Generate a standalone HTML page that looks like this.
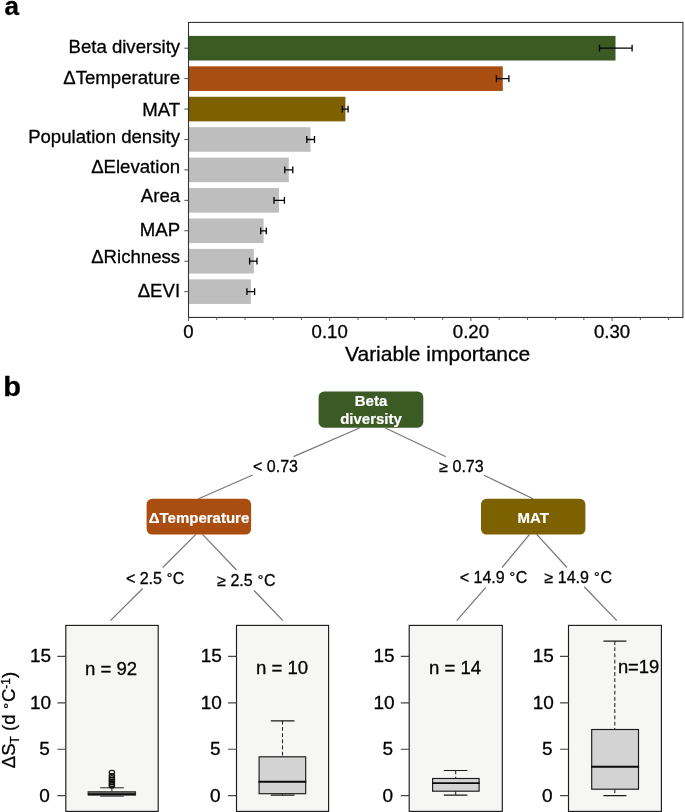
<!DOCTYPE html>
<html lang="en"><head><meta charset="utf-8"><title>Figure</title>
<style>
html,body{margin:0;padding:0;background:#fff;}
body{width:685px;height:812px;overflow:hidden;}
svg{display:block;font-family:"Liberation Sans",Arial,Helvetica,sans-serif;fill:#000;}
.lab{font-size:18.6px;}
text{stroke:#000;stroke-width:0.3px;}
.b{font-weight:bold;}
.node{font-size:15px;font-weight:bold;fill:#fff;stroke:#fff;stroke-width:0.2px;text-anchor:middle;}
.sp{font-size:16px;}
.tk{font-size:19px;text-anchor:end;}
.n{font-size:18.6px;}
.ln{stroke:#787878;stroke-width:1.25;fill:none;}
.ax{stroke:#333;stroke-width:1.1;fill:none;}
.eb{stroke:#000;stroke-width:1.3;fill:none;}
.bx{stroke:#222;stroke-width:1;}
</style></head><body>
<svg width="685" height="812" viewBox="0 0 685 812">
<rect x="0" y="0" width="685" height="812" fill="#ffffff"/>
<text x="4.6" y="14.85" class="b" font-size="26">a</text>
<text transform="translate(3.2 396) scale(1.07 1)" class="b" font-size="27.2">b</text>
<rect x="188.5" y="35.90" width="427.00" height="24.6" fill="#3b5a24"/>
<path class="eb" d="M599.5 48.20H632.1M599.5 44.80v6.8M632.1 44.80v6.8"/>
<path d="M184.3 48.20H188.5" stroke="#555" stroke-width="1" fill="none"/>
<text class="lab" text-anchor="end" x="180.1" y="52.50">Beta diversity</text>
<rect x="188.5" y="66.33" width="314.30" height="24.6" fill="#a94d10"/>
<path class="eb" d="M496.4 78.63H508.9M496.4 75.23v6.8M508.9 75.23v6.8"/>
<path d="M184.3 78.63H188.5" stroke="#555" stroke-width="1" fill="none"/>
<text class="lab" text-anchor="end" x="180.1" y="83.60">ΔTemperature</text>
<rect x="188.5" y="96.76" width="156.90" height="24.6" fill="#7d6000"/>
<path class="eb" d="M342.3 109.06H348.1M342.3 105.66v6.8M348.1 105.66v6.8"/>
<path d="M184.3 109.06H188.5" stroke="#555" stroke-width="1" fill="none"/>
<text class="lab" text-anchor="end" x="180.1" y="115.55">MAT</text>
<rect x="188.5" y="127.19" width="122.00" height="24.6" fill="#bebebe"/>
<path class="eb" d="M306.8 139.49H314.5M306.8 136.09v6.8M314.5 136.09v6.8"/>
<path d="M184.3 139.49H188.5" stroke="#555" stroke-width="1" fill="none"/>
<text class="lab" text-anchor="end" x="180.1" y="142.50">Population density</text>
<rect x="188.5" y="157.62" width="100.30" height="24.6" fill="#bebebe"/>
<path class="eb" d="M284.8 169.92H292.8M284.8 166.52v6.8M292.8 166.52v6.8"/>
<path d="M184.3 169.92H188.5" stroke="#555" stroke-width="1" fill="none"/>
<text class="lab" text-anchor="end" x="180.1" y="172.90">ΔElevation</text>
<rect x="188.5" y="188.05" width="90.50" height="24.6" fill="#bebebe"/>
<path class="eb" d="M274.0 200.35H284.4M274.0 196.95v6.8M284.4 196.95v6.8"/>
<path d="M184.3 200.35H188.5" stroke="#555" stroke-width="1" fill="none"/>
<text class="lab" text-anchor="end" x="180.1" y="201.75">Area</text>
<rect x="188.5" y="218.48" width="75.10" height="24.6" fill="#bebebe"/>
<path class="eb" d="M260.7 230.78H266.3M260.7 227.38v6.8M266.3 227.38v6.8"/>
<path d="M184.3 230.78H188.5" stroke="#555" stroke-width="1" fill="none"/>
<text class="lab" text-anchor="end" x="180.1" y="235.95">MAP</text>
<rect x="188.5" y="248.91" width="65.30" height="24.6" fill="#bebebe"/>
<path class="eb" d="M249.6 261.21H257.0M249.6 257.81v6.8M257.0 257.81v6.8"/>
<path d="M184.3 261.21H188.5" stroke="#555" stroke-width="1" fill="none"/>
<text class="lab" text-anchor="end" x="180.1" y="263.20">ΔRichness</text>
<rect x="188.5" y="279.34" width="62.40" height="24.6" fill="#bebebe"/>
<path class="eb" d="M246.9 291.64H254.6M246.9 288.24v6.8M254.6 288.24v6.8"/>
<path d="M184.3 291.64H188.5" stroke="#555" stroke-width="1" fill="none"/>
<text class="lab" text-anchor="end" x="180.1" y="297.45">ΔEVI</text>
<rect class="ax" x="188.5" y="22.45" width="494.4" height="295.0"/>
<path d="M188.50 317.45v3.7M216.74 317.45v2.6M244.98 317.45v2.6M273.22 317.45v2.6M301.46 317.45v2.6M329.70 317.45v3.7M357.94 317.45v2.6M386.18 317.45v2.6M414.42 317.45v2.6M442.66 317.45v2.6M470.90 317.45v3.7M499.14 317.45v2.6M527.38 317.45v2.6M555.62 317.45v2.6M583.86 317.45v2.6M612.10 317.45v3.7M640.34 317.45v2.6M668.58 317.45v2.6" stroke="#5a5a5a" stroke-width="1" fill="none"/>
<text class="lab" text-anchor="middle" x="188.50" y="337.7">0</text>
<text class="lab" text-anchor="middle" x="329.70" y="337.7">0.10</text>
<text class="lab" text-anchor="middle" x="470.90" y="337.7">0.20</text>
<text class="lab" text-anchor="middle" x="612.10" y="337.7">0.30</text>
<text font-size="21" x="345" y="361.2">Variable importance</text>
<path class="ln" d="M359.5 428L293.5 456.6M252.6 475L198.6 498.8"/>
<path class="ln" d="M385.4 428L445.9 456.8M483.9 475.2L533.1 498.8"/>
<path class="ln" d="M195.8 534.4L162.7 567.5M142.7 588.5L110.4 620.6"/>
<path class="ln" d="M202.5 534.4L236.5 570M254 590.5L282.9 620.6"/>
<path class="ln" d="M529.6 534.4L502 567.5M485.8 587.4L456.7 620.6"/>
<path class="ln" d="M536.7 534.4L567 567.5M584.2 586.8L616.8 620.6"/>
<rect x="318.6" y="391.6" width="104.7" height="36.1" rx="5.5" fill="#3b5a24"/>
<text class="node" x="371" y="405.8">Beta</text><text class="node" x="371" y="423.9">diversity</text>
<rect x="146.6" y="498.8" width="104.5" height="35.7" rx="5.5" fill="#a94d10"/>
<text class="node" x="199" y="523.2">ΔTemperature</text>
<rect x="481" y="498.8" width="104.4" height="35.7" rx="5.5" fill="#7d6000"/>
<text class="node" x="533.2" y="523.2">MAT</text>
<text class="sp" x="253" y="472.1">&lt; 0.73</text>
<text class="sp" x="439.3" y="471.9">≥ 0.73</text>
<text class="sp" x="125.9" y="583.8">&lt; 2.5 <tspan font-size="14.2" dx="0.3" dy="-0.5">°</tspan><tspan dx="0.4" dy="0.5">C</tspan></text>
<text class="sp" x="217.2" y="585.9">≥ 2.5 <tspan font-size="14.2" dx="0.6" dy="-0.5">°</tspan><tspan dx="0.7" dy="0.5">C</tspan></text>
<text class="sp" x="459.7" y="582.8">&lt; 14.9 <tspan font-size="14.2" dx="0.5" dy="-0.5">°</tspan><tspan dx="0.4" dy="0.5">C</tspan></text>
<text class="sp" x="544.6" y="582.8">≥ 14.9 <tspan font-size="14.2" dx="0.6" dy="-0.5">°</tspan><tspan dx="0.7" dy="0.5">C</tspan></text>
<rect x="65.8" y="625.4" width="92.4" height="186" fill="#f6f6f5" stroke="#1c1c1c" stroke-width="1.15"/>
<text class="tk" x="49.8" y="801.50">0</text>
<text class="tk" x="49.8" y="755.05">5</text>
<text class="tk" x="51.2" y="708.60">10</text>
<text class="tk" x="51.2" y="662.15">15</text>
<path d="M57.4 795.70H65.8M57.4 749.25H65.8M57.4 702.80H65.8M57.4 656.35H65.8" stroke="#444" stroke-width="1.2" fill="none"/>
<rect x="236.5" y="625.4" width="92.1" height="186" fill="#f6f6f5" stroke="#1c1c1c" stroke-width="1.15"/>
<text class="tk" x="220.5" y="801.50">0</text>
<text class="tk" x="220.5" y="755.05">5</text>
<text class="tk" x="221.9" y="708.60">10</text>
<text class="tk" x="221.9" y="662.15">15</text>
<path d="M228.1 795.70H236.5M228.1 749.25H236.5M228.1 702.80H236.5M228.1 656.35H236.5" stroke="#444" stroke-width="1.2" fill="none"/>
<rect x="409.2" y="625.4" width="93.1" height="186" fill="#f6f6f5" stroke="#1c1c1c" stroke-width="1.15"/>
<text class="tk" x="393.2" y="801.50">0</text>
<text class="tk" x="393.2" y="755.05">5</text>
<text class="tk" x="394.6" y="708.60">10</text>
<text class="tk" x="394.6" y="662.15">15</text>
<path d="M400.8 795.70H409.2M400.8 749.25H409.2M400.8 702.80H409.2M400.8 656.35H409.2" stroke="#444" stroke-width="1.2" fill="none"/>
<rect x="568.5" y="625.4" width="92.9" height="186" fill="#f6f6f5" stroke="#1c1c1c" stroke-width="1.15"/>
<text class="tk" x="552.5" y="801.50">0</text>
<text class="tk" x="552.5" y="755.05">5</text>
<text class="tk" x="553.9" y="708.60">10</text>
<text class="tk" x="553.9" y="662.15">15</text>
<path d="M560.1 795.70H568.5M560.1 749.25H568.5M560.1 702.80H568.5M560.1 656.35H568.5" stroke="#444" stroke-width="1.2" fill="none"/>
<text transform="translate(14.8 768.2) rotate(-90)" font-size="18.5">ΔS<tspan font-size="12" dy="4.2">T</tspan><tspan dy="-4.2"> (d </tspan><tspan font-size="15.5" dx="0.4" dy="-0.6">°</tspan><tspan dx="0.8" dy="0.6">C</tspan><tspan font-size="12" dy="-4.8">-1</tspan><tspan dy="4.8">)</tspan></text>
<text class="n" x="85.0" y="674.7">n = 92</text>
<text class="n" x="256.0" y="674.2">n = 10</text>
<text class="n" x="429.0" y="674.2">n = 14</text>
<text class="n" style="font-size:18.4px" x="617.9" y="673.1">n=19</text>
<path d="M111.9 787.8V791.5M100.2 787.8H123.8M100.2 796.1H123.8" stroke="#222" stroke-width="1" fill="none"/>
<rect x="88" y="791.7" width="47.6" height="3.5" fill="#6a6a6a" stroke="#2a2a2a" stroke-width="0.9"/>
<path d="M88 794.1H135.6" stroke="#111" stroke-width="1.9" fill="none"/>
<ellipse cx="111.9" cy="772.3" rx="2.7" ry="2.0" fill="none" stroke="#111" stroke-width="1.2"/>
<ellipse cx="111.9" cy="775.6" rx="2.7" ry="2.0" fill="none" stroke="#111" stroke-width="1.2"/>
<ellipse cx="111.9" cy="777.6" rx="2.7" ry="2.0" fill="none" stroke="#111" stroke-width="1.2"/>
<ellipse cx="111.9" cy="779.4" rx="2.7" ry="2.0" fill="none" stroke="#111" stroke-width="1.2"/>
<ellipse cx="111.9" cy="781.0" rx="2.7" ry="2.0" fill="none" stroke="#111" stroke-width="1.2"/>
<ellipse cx="111.9" cy="782.6" rx="2.7" ry="2.0" fill="none" stroke="#111" stroke-width="1.2"/>
<ellipse cx="111.9" cy="784.4" rx="2.7" ry="2.0" fill="none" stroke="#111" stroke-width="1.2"/>
<ellipse cx="111.9" cy="786.1" rx="2.7" ry="2.0" fill="none" stroke="#111" stroke-width="1.2"/>
<path d="M282.5 720.8V756.8M282.5 793.7V795.2" stroke="#222" stroke-width="1.05" stroke-dasharray="3.8 2.4" fill="none"/>
<path d="M270.8 720.8H294.5M270.8 795.2H294.5" stroke="#1a1a1a" stroke-width="1.2" fill="none"/>
<rect x="259.1" y="756.8" width="46.6" height="36.9" fill="#d3d3d3" stroke="#1a1a1a" stroke-width="1.15"/>
<path d="M258.5 781.7H306.3" stroke="#0a0a0a" stroke-width="1.9" fill="none"/>
<path d="M455.7 770.5V778.5M455.7 791.2V795.2" stroke="#222" stroke-width="1.05" stroke-dasharray="3.8 2.4" fill="none"/>
<path d="M443.8 770.5H467.4M443.8 795.2H467.4" stroke="#1a1a1a" stroke-width="1.2" fill="none"/>
<rect x="432.6" y="778.5" width="46.5" height="12.7" fill="#d3d3d3" stroke="#1a1a1a" stroke-width="1.15"/>
<path d="M432.0 783.1H479.7" stroke="#0a0a0a" stroke-width="1.9" fill="none"/>
<path d="M614.8 641.1V729.5M614.8 789.2V795.7" stroke="#222" stroke-width="1.05" stroke-dasharray="3.8 2.4" fill="none"/>
<path d="M603.4 641.1H626.5M603.4 795.7H626.5" stroke="#1a1a1a" stroke-width="1.2" fill="none"/>
<rect x="591.7" y="729.5" width="46.8" height="59.7" fill="#d3d3d3" stroke="#1a1a1a" stroke-width="1.15"/>
<path d="M591.1 766.8H639.1" stroke="#0a0a0a" stroke-width="1.9" fill="none"/>
</svg>
</body></html>
